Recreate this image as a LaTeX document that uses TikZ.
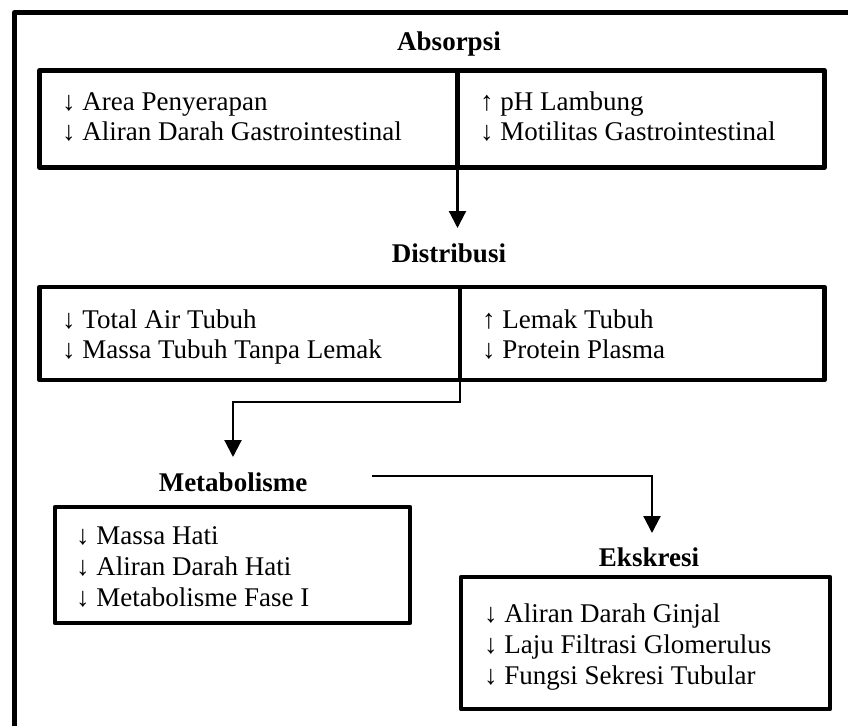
\documentclass[tikz,border=0pt]{standalone}
\usepackage{fontspec}
\setmainfont{Liberation Serif}
\usetikzlibrary{arrows.meta}
\begin{document}
\begin{tikzpicture}[x=1pt,y=-1pt,
  box/.style={draw,line width=4.5pt,rectangle,inner sep=0pt,outer sep=0pt,line join=round},
  item/.style={anchor=base west,inner sep=0pt,font=\fontsize{27}{30}\selectfont},
  ttl/.style={anchor=base,inner sep=0pt,font=\fontsize{27}{30}\selectfont\bfseries},
  arr/.style={line width=2.2pt,-{Triangle[width=17pt,length=17pt]}},
  frame/.style={line width=5pt,line join=round}
]
\path[use as bounding box] (0,0) rectangle (848,725);
\clip (0,0) rectangle (848,725);
\draw[frame] (14.5,780) -- (14.5,12.5) -- (900,12.5) -- (900,780) -- cycle;

% Absorpsi
\node[ttl] (tAbs) at (449,51) {Absorpsi};
\node[box,minimum width=418pt,minimum height=97pt] (absL) at (248.5,119) {};
\node[box,minimum width=367pt,minimum height=97pt] (absR) at (641,119) {};
\node[item] (a1) at (62,110) {↓ Area Penyerapan};
\node[item] (a2) at (62,140) {↓ Aliran Darah Gastrointestinal};
\node[item] (a3) at (480,110) {↑ pH Lambung};
\node[item] (a4) at (480,140) {↓ Motilitas Gastrointestinal};

% Distribusi
\node[ttl] (tDis) at (449,262) {Distribusi};
\node[box,minimum width=420.5pt,minimum height=93pt] (disL) at (249.75,333.5) {};
\node[box,minimum width=364.5pt,minimum height=93pt] (disR) at (642.25,333.5) {};
\node[item] (d1) at (62,328) {↓ Total Air Tubuh};
\node[item] (d2) at (62,358) {↓ Massa Tubuh Tanpa Lemak};
\node[item] (d3) at (482,328) {↑ Lemak Tubuh};
\node[item] (d4) at (482,358) {↓ Protein Plasma};

% Metabolisme
\node[ttl] (tMet) at (233,491) {Metabolisme};
\node[box,minimum width=355pt,minimum height=116pt] (metB) at (232.5,565) {};
\node[item] (m1) at (76,544) {↓ Massa Hati};
\node[item] (m2) at (76,575) {↓ Aliran Darah Hati};
\node[item] (m3) at (76,606) {↓ Metabolisme Fase I};

% Ekskresi
\node[ttl] (tEks) at (649,566) {Ekskresi};
\node[box,minimum width=369pt,minimum height=132pt] (eksB) at (645.5,643) {};
\node[item] (e1) at (484,622) {↓ Aliran Darah Ginjal};
\node[item] (e2) at (484,653) {↓ Laju Filtrasi Glomerulus};
\node[item] (e3) at (484,684) {↓ Fungsi Sekresi Tubular};

% connectors
\coordinate (t1) at (457.5,228);
\draw[arr] (absL.south east) -- (t1);
\coordinate (b2) at (233,402);
\coordinate (t2) at (233,457);
\draw[arr] (disL.south east) |- (b2) -- (t2);
\coordinate (m0) at (372,476);
\coordinate (t3) at (652,533);
\draw[arr] (m0) -| (t3);
\end{tikzpicture}
\end{document}
